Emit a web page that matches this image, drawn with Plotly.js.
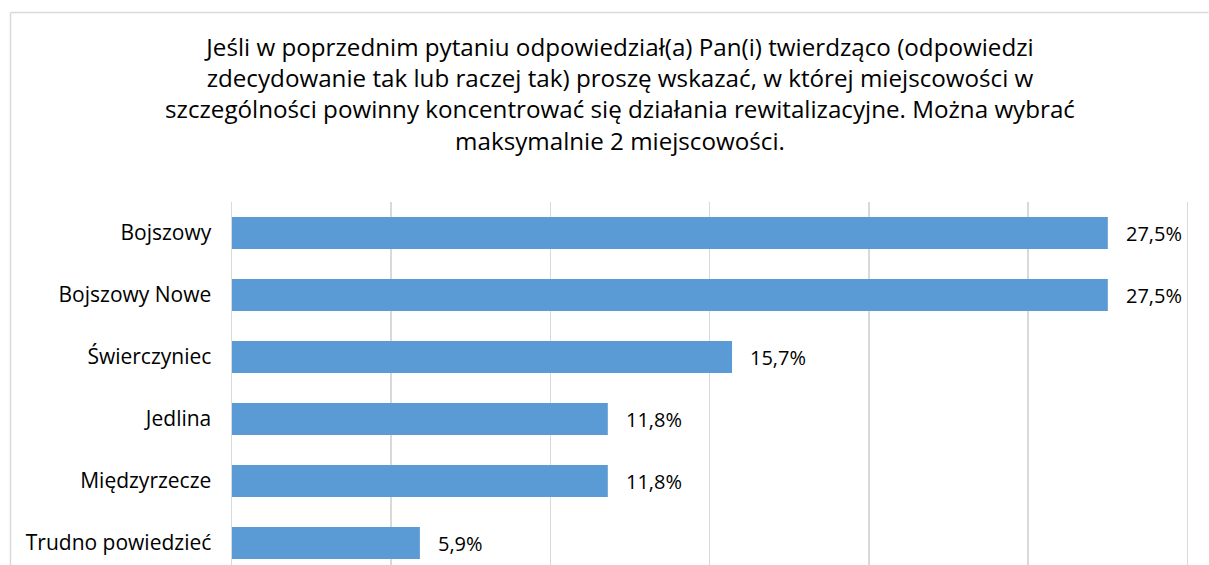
<!DOCTYPE html>
<html>
<head>
<meta charset="utf-8">
<script src="https://cdn.plot.ly/plotly-3.0.1.min.js"></script>
<style>
html,body{margin:0;padding:0;overflow:hidden;background:#fff;}
#chart{width:1209px;height:565px;}
</style>
</head>
<body>
<div id="chart"></div>
<script>
const categories = ["Bojszowy", "Bojszowy Nowe", "Świerczyniec", "Jedlina", "Międzyrzecze", "Trudno powiedzieć"];
const values = [27.5, 27.5, 15.7, 11.8, 11.8, 5.9];
const labels = ["27,5%", "27,5%", "15,7%", "11,8%", "11,8%", "5,9%"];
const xTicks = [0, 5, 10, 15, 20, 25, 30];
const titleText = "Jeśli w poprzednim pytaniu odpowiedział(a) Pan(i) twierdząco (odpowiedzi<br>zdecydowanie tak lub raczej tak) proszę wskazać, w której miejscowości w<br>szczególności powinny koncentrować się działania rewitalizacyjne. Można wybrać<br>maksymalnie 2 miejscowości.";

const FONT = "'Open Sans', Lato, sans-serif";

const trace = {
  type: "bar",
  orientation: "h",
  x: values,
  y: categories,
  marker: {color: "#5B9BD5"},
  hoverinfo: "skip"
};

const annotations = values.map((v, i) => ({
  x: v, y: categories[i], xref: "x", yref: "y",
  text: labels[i], showarrow: false, xanchor: "left", yanchor: "middle",
  xshift: 16, font: {family: FONT, size: 20, color: "#000"}
}));

const L = 232, T = 202, H = 565;
const plotW = 1209 - L - 12;
const xMax = 30.3;
const plotH = H - T;
const pitch = 62;
const yBottom = -0.5 + plotH / pitch;

// border (top + left) in paper coords
const px = (p) => (p - L) / plotW;
const py = (p) => 1 - (p - T) / plotH;
const shapes = [
  {type: "line", xref: "paper", yref: "paper", x0: px(10.5), x1: px(1208.5), y0: py(12.5), y1: py(12.5), line: {color: "#d9d9d9", width: 1.5}},
  {type: "line", xref: "paper", yref: "paper", x0: px(10.5), x1: px(10.5), y0: py(12.5), y1: py(H + 5), line: {color: "#d9d9d9", width: 1.5}}
];

const layout = {
  width: 1209, height: 565,
  margin: {l: L, r: 1209 - L - plotW, t: T, b: 0},
  paper_bgcolor: "#fff", plot_bgcolor: "#fff",
  showlegend: false,
  bargap: 0.484,
  title: {
    text: titleText,
    x: 620 / 1209, xanchor: "center", xref: "container",
    y: 1 - 55.5 / 565, yanchor: "top", yref: "container",
    font: {family: FONT, size: 24.2, color: "#000"}
  },
  xaxis: {
    range: [0, xMax],
    tickvals: xTicks,
    showticklabels: false,
    showgrid: true, gridcolor: "#d9d9d9", gridwidth: 1.5,
    zeroline: false, showline: false, fixedrange: true
  },
  yaxis: {
    type: "category",
    categoryorder: "array", categoryarray: categories,
    range: [yBottom, -0.5],
    showgrid: false, zeroline: false,
    showline: true, linecolor: "#d9d9d9", linewidth: 1.5,
    ticks: "", ticklabelstandoff: 15,
    tickfont: {family: FONT, size: 21, color: "#000"},
    fixedrange: true
  },
  annotations: annotations,
  shapes: shapes
};

Plotly.newPlot("chart", [trace], layout, {displayModeBar: false, staticPlot: true});
</script>
</body>
</html>
